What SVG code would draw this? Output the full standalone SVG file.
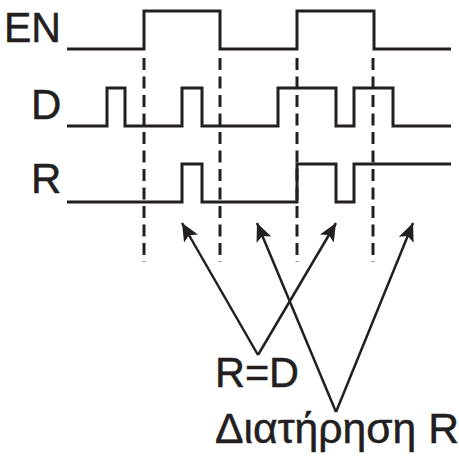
<svg xmlns="http://www.w3.org/2000/svg" width="459" height="458" viewBox="0 0 459 458">
<defs>
<style>
.sig{fill:none;stroke:#231f20;stroke-width:3;stroke-linejoin:miter;stroke-linecap:butt}
.dash{fill:none;stroke:#231f20;stroke-width:3;stroke-dasharray:12 6.5}
.arr{fill:none;stroke:#231f20;stroke-width:2.5}
.lbl{font-family:"Liberation Sans",Arial,sans-serif;font-size:42px;fill:#231f20;stroke:#231f20;stroke-width:0.5}
</style>
<marker id="ah" markerUnits="userSpaceOnUse" markerWidth="20" markerHeight="16" refX="18" refY="8" orient="auto">
<path d="M0,0 L18,8 L0,16 L4,8 Z" fill="#231f20"/>
</marker>
</defs>
<rect width="459" height="458" fill="#ffffff"/>
<g id="EN">
<text class="lbl" x="4" y="42" textLength="57" lengthAdjust="spacingAndGlyphs">EN</text>
<path class="sig" d="M67,49 H144 V11 H220 V49 H297 V11 H374 V49 H451"/>
</g>
<g id="D">
<text class="lbl" x="31" y="119">D</text>
<path class="sig" d="M67,126 H107 V88 H125 V126 H182 V88 H202 V126 H278 V88 H336 V126 H354 V88 H393 V126 H451"/>
</g>
<g id="R">
<text class="lbl" x="31" y="193">R</text>
<path class="sig" d="M67,202 H182 V164 H202 V202 H297 V164 H336 V202 H354 V164 H451"/>
</g>
<g id="connectors">
<line class="dash" x1="144" y1="58" x2="144" y2="262"/>
<line class="dash" x1="220" y1="58" x2="220" y2="262"/>
<line class="dash" x1="297" y1="58" x2="297" y2="262"/>
<line class="dash" x1="373" y1="58" x2="373" y2="262"/>
<line class="arr" x1="258" y1="355" x2="182" y2="223" marker-end="url(#ah)"/>
<line class="arr" x1="258" y1="355" x2="336" y2="223" marker-end="url(#ah)"/>
<line class="arr" x1="336" y1="412" x2="257" y2="223" marker-end="url(#ah)"/>
<line class="arr" x1="336" y1="412" x2="413" y2="223" marker-end="url(#ah)"/>
</g>
<g id="label-RD">
<text class="lbl" x="215" y="387" textLength="84" lengthAdjust="spacingAndGlyphs">R=D</text>
</g>
<g id="label-hold">
<text class="lbl" x="215" y="443" textLength="244" lengthAdjust="spacingAndGlyphs">Διατήρηση R</text>
</g>
</svg>
